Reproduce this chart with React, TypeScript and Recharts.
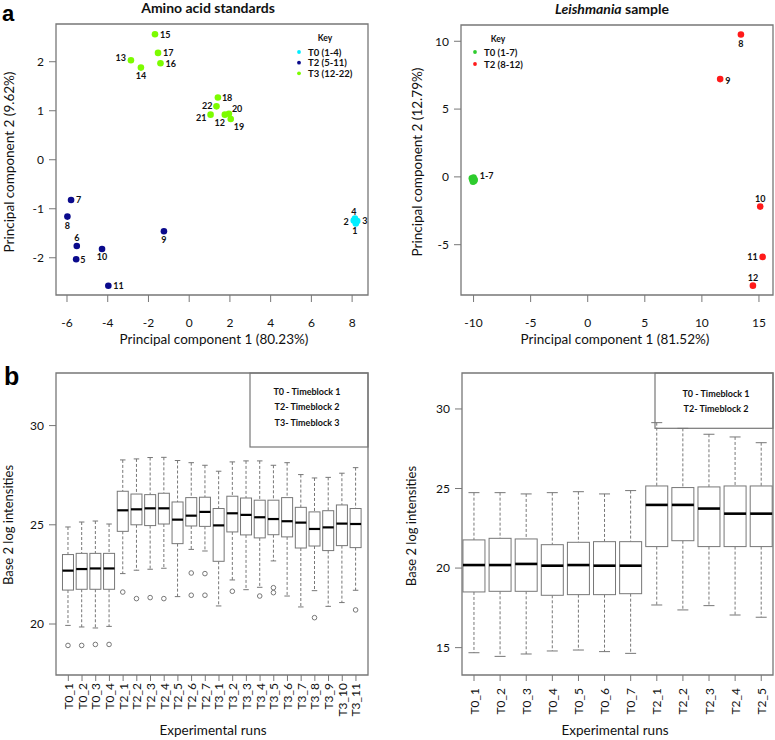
import React from 'react';
import {
  ScatterChart,
  Scatter,
  ComposedChart,
  Bar,
  XAxis,
  YAxis,
  ReferenceArea,
} from 'recharts';

const FONT = 'Lato, "Open Sans", sans-serif';
const FRAME = '#777777';
const INK = '#111111';

// ---------- panel a: PCA scores ----------
const aminoT0 = [
  { pc1: 8.18, pc2: -1.3, label: '1' },
  { pc1: 8.08, pc2: -1.24, label: '2' },
  { pc1: 8.25, pc2: -1.25, label: '3' },
  { pc1: 8.14, pc2: -1.2, label: '4' },
];
const aminoT2 = [
  { pc1: -5.55, pc2: -2.03, label: '5' },
  { pc1: -5.52, pc2: -1.76, label: '6' },
  { pc1: -5.8, pc2: -0.82, label: '7' },
  { pc1: -5.98, pc2: -1.16, label: '8' },
  { pc1: -1.24, pc2: -1.46, label: '9' },
  { pc1: -4.28, pc2: -1.82, label: '10' },
  { pc1: -3.97, pc2: -2.57, label: '11' },
];
const aminoT3 = [
  { pc1: 1.75, pc2: 0.92, label: '12' },
  { pc1: -2.86, pc2: 2.03, label: '13' },
  { pc1: -2.37, pc2: 1.88, label: '14' },
  { pc1: -1.68, pc2: 2.56, label: '15' },
  { pc1: -1.41, pc2: 1.97, label: '16' },
  { pc1: -1.53, pc2: 2.18, label: '17' },
  { pc1: 1.41, pc2: 1.27, label: '18' },
  { pc1: 2.04, pc2: 0.83, label: '19' },
  { pc1: 1.95, pc2: 0.94, label: '20' },
  { pc1: 1.05, pc2: 0.92, label: '21' },
  { pc1: 1.34, pc2: 1.09, label: '22' },
];

const leishT0 = [
  { pc1: -10.15, pc2: -0.1, label: '' },
  { pc1: -10.1, pc2: -0.22, label: '' },
  { pc1: -10.0, pc2: -0.15, label: '' },
  { pc1: -9.95, pc2: -0.3, label: '' },
  { pc1: -10.05, pc2: -0.35, label: '' },
  { pc1: -10.0, pc2: -0.05, label: '' },
  { pc1: -9.9, pc2: -0.22, label: '1-7' },
];
const leishT2 = [
  { pc1: 13.42, pc2: 10.5, label: '8' },
  { pc1: 11.6, pc2: 7.21, label: '9' },
  { pc1: 15.11, pc2: -2.19, label: '10' },
  { pc1: 15.32, pc2: -5.9, label: '11' },
  { pc1: 14.47, pc2: -8.02, label: '12' },
];

// where each point label sits: [dx, dy, anchor]
type Offset = [number, number, 'start' | 'middle' | 'end'];
const aminoLabelPos: Record<string, Offset> = {
  '1': [-1, 7, 'middle'], '2': [-5, 1, 'end'], '3': [5, -1, 'start'], '4': [-1, -7, 'middle'],
  '5': [4, 0, 'start'], '6': [0, -8, 'middle'], '7': [5, 0, 'start'], '8': [0, 9, 'middle'],
  '9': [0, 8, 'middle'], '10': [0, 8, 'middle'], '11': [5, 0, 'start'], '12': [-5, 8, 'middle'],
  '13': [-5, -3, 'end'], '14': [0, 8, 'middle'], '15': [5, 0, 'start'], '16': [5, 0, 'start'],
  '17': [5, 0, 'start'], '18': [4, 0, 'start'], '19': [3, 7, 'start'], '20': [3, -5, 'start'],
  '21': [-4, 3, 'end'], '22': [-4, -1, 'end'],
};
const leishLabelPos: Record<string, Offset> = {
  '1-7': [5, -4, 'start'], '8': [0, 9, 'middle'], '9': [5, 1, 'start'],
  '10': [0, -8, 'middle'], '11': [-5, 0, 'end'], '12': [0, -8, 'middle'],
};

// ---------- panel b: boxplot statistics ----------
const aminoRuns = [
  'T0_1', 'T0_2', 'T0_3', 'T0_4',
  'T2_1', 'T2_2', 'T2_3', 'T2_4', 'T2_5', 'T2_6', 'T2_7',
  'T3_1', 'T3_2', 'T3_3', 'T3_4', 'T3_5', 'T3_6', 'T3_7', 'T3_8', 'T3_9', 'T3_10', 'T3_11',
];
const aminoLow = [19.93, 19.85, 19.8, 19.88, 22.54, 22.71, 22.76, 22.81, 21.38, 23.76, 23.68, 20.91, 22.22, 21.73, 21.85, 23.18, 21.41, 20.86, 21.68, 20.89, 21.08, 21.7];
const aminoQ1 = [21.71, 21.75, 21.75, 21.75, 24.67, 25.0, 24.96, 25.04, 24.05, 24.94, 24.92, 23.16, 24.64, 24.49, 24.34, 24.5, 24.39, 23.83, 23.93, 23.7, 23.95, 23.85];
const aminoMedian = [22.69, 22.77, 22.8, 22.8, 25.73, 25.78, 25.83, 25.83, 25.26, 25.46, 25.65, 24.97, 25.58, 25.5, 25.38, 25.29, 25.18, 25.11, 24.79, 24.87, 25.06, 25.04];
const aminoQ3 = [23.5, 23.56, 23.56, 23.56, 26.69, 26.55, 26.52, 26.59, 26.15, 26.37, 26.39, 25.82, 26.44, 26.35, 26.24, 26.24, 26.37, 25.88, 25.65, 25.71, 26.0, 25.82];
const aminoHigh = [24.89, 25.14, 25.19, 25.04, 28.27, 28.32, 28.39, 28.4, 28.24, 28.13, 28.0, 27.7, 28.17, 28.22, 28.22, 28.0, 28.13, 27.53, 27.36, 27.39, 27.6, 27.88];
const aminoOutliers = [
  [18.92], [18.92], [18.97], [18.97], [21.61], [21.28], [21.33], [21.28], [], [22.57, 21.45], [22.54, 21.45],
  [], [21.65], [], [21.41], [21.83, 21.58], [], [], [20.32], [], [], [20.71],
];

const leishRuns = ['T0_1', 'T0_2', 'T0_3', 'T0_4', 'T0_5', 'T0_6', 'T0_7', 'T2_1', 'T2_2', 'T2_3', 'T2_4', 'T2_5'];
const leishLow = [14.68, 14.45, 14.6, 14.79, 14.85, 14.75, 14.64, 17.68, 17.37, 17.64, 17.05, 16.91];
const leishQ1 = [18.5, 18.54, 18.54, 18.29, 18.33, 18.33, 18.39, 21.35, 21.72, 21.35, 21.35, 21.35];
const leishMedian = [20.19, 20.19, 20.26, 20.15, 20.19, 20.15, 20.15, 23.97, 23.97, 23.74, 23.42, 23.42];
const leishQ3 = [21.77, 21.87, 21.83, 21.47, 21.62, 21.66, 21.66, 25.16, 25.06, 25.1, 25.16, 25.16];
const leishHigh = [24.74, 24.74, 24.66, 24.74, 24.8, 24.66, 24.87, 29.14, 28.78, 28.41, 28.24, 27.88];
const leishOutliers: number[][] = leishRuns.map(() => []);

type BoxRow = { pos: number; run: string; lo: number; q1: number; med: number; q3: number; hi: number; out: number[] };

function buildRows(runs: string[], lo: number[], q1: number[], med: number[], q3: number[], hi: number[], out: number[][]): BoxRow[] {
  return runs.map((run, i) => ({ pos: i + 1, run, lo: lo[i], q1: q1[i], med: med[i], q3: q3[i], hi: hi[i], out: out[i] }));
}

const aminoRows = buildRows(aminoRuns, aminoLow, aminoQ1, aminoMedian, aminoQ3, aminoHigh, aminoOutliers);
const leishRows = buildRows(leishRuns, leishLow, leishQ1, leishMedian, leishQ3, leishHigh, leishOutliers);

const tickStyle = { fontSize: 12, fill: INK, fontFamily: FONT };

function dotShape(color: string, places: Record<string, Offset>) {
  return (props: any) => {
    const { cx, cy, payload } = props;
    const place = places[payload?.label];
    return (
      <g>
        <circle cx={cx} cy={cy} r={3.3} fill={color} />
        {place && (
          <text
            x={cx + place[0]}
            y={cy + place[1]}
            textAnchor={place[2]}
            dominantBaseline="central"
            fontSize={9}
            fontWeight={700}
            fontFamily={FONT}
            fill={INK}
          >
            {payload.label}
          </text>
        )}
      </g>
    );
  };
}

// one box: the bar spans the whiskers, the rest is placed on the same linear scale
function boxShape(medianWidth: number) {
  return (props: any) => {
    const { x, y, width, height, payload } = props;
    if (!payload) return <g />;
    const top = height >= 0 ? y : y + height;
    const span = Math.abs(height);
    const toY = (v: number) => top + ((payload.hi - v) / (payload.hi - payload.lo)) * span;
    const cx = x + width / 2;
    const cap = width / 4;
    const yHi = toY(payload.hi);
    const yLo = toY(payload.lo);
    const yQ3 = toY(payload.q3);
    const yQ1 = toY(payload.q1);
    const yMed = toY(payload.med);
    return (
      <g>
        <line x1={cx} x2={cx} y1={yHi} y2={yQ3} stroke={FRAME} strokeDasharray="3 2" />
        <line x1={cx} x2={cx} y1={yQ1} y2={yLo} stroke={FRAME} strokeDasharray="3 2" />
        <line x1={cx - cap} x2={cx + cap} y1={yHi} y2={yHi} stroke={FRAME} />
        <line x1={cx - cap} x2={cx + cap} y1={yLo} y2={yLo} stroke={FRAME} />
        <rect x={x} y={yQ3} width={width} height={yQ1 - yQ3} fill="#fff" stroke={FRAME} />
        <line x1={x} x2={x + width} y1={yMed} y2={yMed} stroke="#000" strokeWidth={medianWidth} />
        {payload.out.map((v: number, i: number) => (
          <circle key={i} cx={cx} cy={toY(v)} r={2.3} fill="none" stroke={FRAME} />
        ))}
      </g>
    );
  };
}

function runTick(names: string[], size: number) {
  return (props: any) => {
    const { x, y, payload } = props;
    const name = names[Math.round(payload.value) - 1] ?? '';
    return (
      <text
        x={x}
        y={y}
        transform={`rotate(-90 ${x} ${y})`}
        textAnchor="end"
        dominantBaseline="central"
        fontSize={size}
        fontFamily={FONT}
        fill={INK}
      >
        {name}
      </text>
    );
  };
}

interface ScatterPanelProps {
  left: number;
  yAxisWidth: number;
  marginTop: number;
  marginRight: number;
  xDomain: [number, number];
  yDomain: [number, number];
  xTicks: number[];
  yTicks: number[];
  children: React.ReactNode;
}

function ScatterPanel({ left, yAxisWidth, marginTop, marginRight, xDomain, yDomain, xTicks, yTicks, children }: ScatterPanelProps) {
  return (
    <div style={{ position: 'absolute', left, top: 0 }}>
      <ScatterChart width={390} height={340} margin={{ top: marginTop, right: marginRight, bottom: 0, left: 0 }}>
        <XAxis
          type="number"
          dataKey="pc1"
          domain={xDomain}
          allowDataOverflow
          ticks={xTicks}
          interval={0}
          height={45}
          tickSize={7}
          tickMargin={16}
          axisLine={false}
          tickLine={{ stroke: FRAME }}
          tick={tickStyle}
        />
        <YAxis
          type="number"
          dataKey="pc2"
          domain={yDomain}
          allowDataOverflow
          ticks={yTicks}
          interval={0}
          width={yAxisWidth}
          tickSize={7}
          tickMargin={5}
          axisLine={false}
          tickLine={{ stroke: FRAME }}
          tick={tickStyle}
        />
        <ReferenceArea x1={xDomain[0]} x2={xDomain[1]} y1={yDomain[0]} y2={yDomain[1]} fill="none" stroke={FRAME} strokeWidth={1.3} />
        {children}
      </ScatterChart>
    </div>
  );
}

interface BoxPanelProps {
  left: number;
  rows: BoxRow[];
  yAxisWidth: number;
  marginRight: number;
  xDomain: [number, number];
  yDomain: [number, number];
  yTicks: number[];
  barSize: number;
  medianWidth: number;
  tickGap: number;
}

function BoxPanel({ left, rows, yAxisWidth, marginRight, xDomain, yDomain, yTicks, barSize, medianWidth, tickGap }: BoxPanelProps) {
  const names = rows.map((r) => r.run);
  return (
    <div style={{ position: 'absolute', left, top: 360 }}>
      <ComposedChart width={390} height={380} data={rows} margin={{ top: 13, right: marginRight, bottom: 0, left: 0 }}>
        <XAxis
          type="number"
          dataKey="pos"
          domain={xDomain}
          allowDataOverflow
          ticks={rows.map((r) => r.pos)}
          interval={0}
          height={65}
          tickSize={6}
          tickMargin={tickGap}
          axisLine={false}
          tickLine={{ stroke: FRAME }}
          tick={runTick(names, 12)}
        />
        <YAxis
          type="number"
          domain={yDomain}
          allowDataOverflow
          ticks={yTicks}
          interval={0}
          width={yAxisWidth}
          tickSize={7}
          tickMargin={5}
          axisLine={false}
          tickLine={{ stroke: FRAME }}
          tick={tickStyle}
        />
        <ReferenceArea x1={xDomain[0]} x2={xDomain[1]} y1={yDomain[0]} y2={yDomain[1]} fill="none" stroke={FRAME} strokeWidth={1.3} />
        <Bar
          dataKey={(d: BoxRow) => [d.lo, d.hi]}
          barSize={barSize}
          shape={boxShape(medianWidth)}
          isAnimationActive={false}
        />
      </ComposedChart>
    </div>
  );
}

function KeyDot({ x, y, color, text }: { x: number; y: number; color: string; text: string }) {
  return (
    <g>
      <circle cx={x} cy={y} r={1.9} fill={color} />
      <text x={x + 9} y={y} dominantBaseline="central" fontSize={9.5} fontWeight={700} fontFamily={FONT} fill={INK}>
        {text}
      </text>
    </g>
  );
}

export default function App() {
  const label = { fontFamily: FONT, fill: INK } as const;
  return (
    <div style={{ position: 'absolute', left: 0, top: 0, width: 775, height: 740, background: '#fff', overflow: 'hidden' }}>
      <ScatterPanel
        left={0}
        yAxisWidth={56}
        marginTop={24}
        marginRight={22}
        xDomain={[-6.54, 8.78]}
        yDomain={[-2.76, 2.77]}
        xTicks={[-6, -4, -2, 0, 2, 4, 6, 8]}
        yTicks={[-2, -1, 0, 1, 2]}
      >
        <Scatter data={aminoT3} shape={dotShape('#7cfc00', aminoLabelPos)} isAnimationActive={false} />
        <Scatter data={aminoT2} shape={dotShape('#0a0a8c', aminoLabelPos)} isAnimationActive={false} />
        <Scatter data={aminoT0} shape={dotShape('#00eeff', aminoLabelPos)} isAnimationActive={false} />
      </ScatterPanel>

      <ScatterPanel
        left={385}
        yAxisWidth={76}
        marginTop={25}
        marginRight={2}
        xDomain={[-11.1, 16.23]}
        yDomain={[-8.71, 11.2]}
        xTicks={[-10, -5, 0, 5, 10, 15]}
        yTicks={[-5, 0, 5, 10]}
      >
        <Scatter data={leishT0} shape={dotShape('#2ecc2e', leishLabelPos)} isAnimationActive={false} />
        <Scatter data={leishT2} shape={dotShape('#ff1a1a', leishLabelPos)} isAnimationActive={false} />
      </ScatterPanel>

      <BoxPanel
        left={0}
        rows={aminoRows}
        yAxisWidth={56}
        marginRight={22}
        xDomain={[0.1, 22.88]}
        yDomain={[17.43, 32.65]}
        yTicks={[20, 25, 30]}
        barSize={11}
        medianWidth={2.2}
        tickGap={2}
      />

      <BoxPanel
        left={385}
        rows={leishRows}
        yAxisWidth={77}
        marginRight={2}
        xDomain={[0.54, 12.45]}
        yDomain={[13.28, 32.26]}
        yTicks={[15, 20, 25, 30]}
        barSize={22}
        medianWidth={2.6}
        tickGap={7}
      />

      <svg width={775} height={740} style={{ position: 'absolute', left: 0, top: 0, pointerEvents: 'none' }}>
        <text x={2} y={21} fontSize={22} fontWeight={700} fontFamily="'Liberation Sans', Arial, sans-serif" fill="#000">a</text>
        <text x={4} y={385} fontSize={25} fontWeight={700} fontFamily="'Liberation Sans', Arial, sans-serif" fill="#000">b</text>

        <text x={208} y={13} textAnchor="middle" fontSize={14} fontWeight={700} {...label}>Amino acid standards</text>
        <text x={612} y={13.5} textAnchor="middle" fontSize={14} fontWeight={700} {...label}>
          <tspan fontStyle="italic">Leishmania</tspan> sample
        </text>

        <text x={214} y={344} textAnchor="middle" fontSize={13.5} {...label}>Principal component 1 (80.23%)</text>
        <text x={615} y={344} textAnchor="middle" fontSize={13.5} {...label}>Principal component 1 (81.52%)</text>
        <text x={14} y={162} textAnchor="middle" fontSize={13.5} transform="rotate(-90 14 162)" {...label}>Principal component 2 (9.62%)</text>
        <text x={422} y={162} textAnchor="middle" fontSize={13.5} transform="rotate(-90 422 162)" {...label}>Principal component 2 (12.79%)</text>

        <text x={13} y={525} textAnchor="middle" fontSize={13} transform="rotate(-90 13 525)" {...label}>Base 2 log intensities</text>
        <text x={416} y={526} textAnchor="middle" fontSize={13} transform="rotate(-90 416 526)" {...label}>Base 2 log intensities</text>
        <text x={213} y={735} textAnchor="middle" fontSize={13.5} {...label}>Experimental runs</text>
        <text x={615} y={735} textAnchor="middle" fontSize={13.5} {...label}>Experimental runs</text>

        {/* keys of the PCA plots */}
        <text x={325} y={37.5} textAnchor="middle" dominantBaseline="central" fontSize={8.5} fontWeight={700} {...label}>Key</text>
        <KeyDot x={299} y={52} color="#00eeff" text="T0 (1-4)" />
        <KeyDot x={299} y={62.7} color="#0a0a8c" text="T2 (5-11)" />
        <KeyDot x={299} y={73.3} color="#7cfc00" text="T3 (12-22)" />

        <text x={498} y={38.5} textAnchor="middle" dominantBaseline="central" fontSize={8.5} fontWeight={700} {...label}>Key</text>
        <KeyDot x={475} y={52} color="#2ecc2e" text="T0 (1-7)" />
        <KeyDot x={475} y={64} color="#ff1a1a" text="T2 (8-12)" />

        {/* keys of the boxplots */}
        <rect x={250} y={373} width={118} height={74} fill="none" stroke={FRAME} strokeWidth={1.2} />
        <text x={307} y={391.7} textAnchor="middle" dominantBaseline="central" fontSize={9} fontWeight={700} {...label}>T0 - Timeblock 1</text>
        <text x={307} y={406.7} textAnchor="middle" dominantBaseline="central" fontSize={9} fontWeight={700} {...label}>T2- Timeblock 2</text>
        <text x={307} y={422} textAnchor="middle" dominantBaseline="central" fontSize={9} fontWeight={700} {...label}>T3- Timeblock 3</text>

        <rect x={655} y={373} width={118} height={55.3} fill="none" stroke={FRAME} strokeWidth={1.2} />
        <text x={716} y={393.3} textAnchor="middle" dominantBaseline="central" fontSize={9} fontWeight={700} {...label}>T0 - Timeblock 1</text>
        <text x={716} y={408} textAnchor="middle" dominantBaseline="central" fontSize={9} fontWeight={700} {...label}>T2- Timeblock 2</text>
      </svg>
    </div>
  );
}
